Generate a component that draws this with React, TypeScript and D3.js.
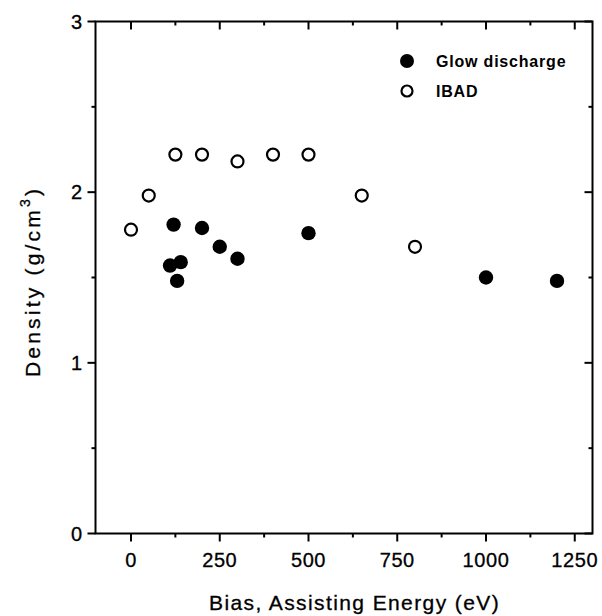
import React from "react";
import * as d3 from "d3";

const glowBias = [110, 120, 130, 140, 200, 250, 300, 500, 1000, 1200];
const glowDensity = [1.57, 1.81, 1.48, 1.59, 1.79, 1.68, 1.61, 1.76, 1.5, 1.48];

const ibadEnergy = [0, 50, 125, 200, 300, 400, 500, 650, 800];
const ibadDensity = [1.78, 1.98, 2.22, 2.22, 2.18, 2.22, 2.22, 1.98, 1.68];

const xMajor = [0, 250, 500, 750, 1000, 1250];
const xMinor = [125, 375, 625, 875, 1125];
const yMajor = [0, 1, 2, 3];
const yMinor = [0.5, 1.5, 2.5];

const legendLabels = ["Glow discharge", "IBAD"];

const W = 602;
const H = 616;
const L = 95.5;
const R = 592.5;
const T = 21.5;
const B = 533.5;

const FONT = "'Liberation Sans', Arial, Helvetica, sans-serif";

export default function App() {
  const x = d3.scaleLinear().domain([-100, 1300]).range([L, R]);
  const y = d3.scaleLinear().domain([0, 3]).range([B, T]);
  const major = 8;
  const minor = 4;
  const sw = 2;

  return (
    <svg
      width={W}
      height={H}
      viewBox={`0 0 ${W} ${H}`}
      style={{ position: "absolute", left: 0, top: 0, background: "#fff" }}
    >
      <rect x={0} y={0} width={W} height={H} fill="#fff" />
      <rect x={L} y={T} width={R - L} height={B - T} fill="none" stroke="#000" strokeWidth={sw} />
      {xMajor.map((v) => (
        <g key={"xm" + v}>
          <line x1={x(v)} x2={x(v)} y1={B} y2={B + major} stroke="#000" strokeWidth={sw} />
          <line x1={x(v)} x2={x(v)} y1={T} y2={T + major} stroke="#000" strokeWidth={sw} />
          <text
            x={x(v)}
            y={567}
            textAnchor="middle"
            fontFamily={FONT}
            fontSize={20}
            letterSpacing={0.6}
            fill="#000"
            stroke="#000"
            strokeWidth={0.3}
          >
            {v}
          </text>
        </g>
      ))}
      {xMinor.map((v) => (
        <g key={"xn" + v}>
          <line x1={x(v)} x2={x(v)} y1={B} y2={B + minor} stroke="#000" strokeWidth={sw} />
          <line x1={x(v)} x2={x(v)} y1={T} y2={T + minor} stroke="#000" strokeWidth={sw} />
        </g>
      ))}
      {yMajor.map((v) => (
        <g key={"ym" + v}>
          <line x1={L - major} x2={L} y1={y(v)} y2={y(v)} stroke="#000" strokeWidth={sw} />
          <line x1={R - major} x2={R} y1={y(v)} y2={y(v)} stroke="#000" strokeWidth={sw} />
          <text
            x={82}
            y={y(v) + 7}
            textAnchor="end"
            fontFamily={FONT}
            fontSize={20}
            fill="#000"
            stroke="#000"
            strokeWidth={0.3}
          >
            {v}
          </text>
        </g>
      ))}
      {yMinor.map((v) => (
        <g key={"yn" + v}>
          <line x1={L - minor} x2={L} y1={y(v)} y2={y(v)} stroke="#000" strokeWidth={sw} />
          <line x1={R - minor} x2={R} y1={y(v)} y2={y(v)} stroke="#000" strokeWidth={sw} />
        </g>
      ))}
      {ibadEnergy.map((v, i) => (
        <circle
          key={"ib" + i}
          cx={x(v)}
          cy={y(ibadDensity[i])}
          r={6}
          fill="#fff"
          stroke="#000"
          strokeWidth={2.2}
        />
      ))}
      {glowBias.map((v, i) => (
        <circle key={"gl" + i} cx={x(v)} cy={y(glowDensity[i])} r={7.2} fill="#000" />
      ))}
      <circle cx={407} cy={61} r={7} fill="#000" />
      <text x={436} y={66.5} fontFamily={FONT} fontSize={16} fontWeight="bold" letterSpacing={0.8} fill="#000">
        {legendLabels[0]}
      </text>
      <circle cx={407} cy={91} r={5.5} fill="#fff" stroke="#000" strokeWidth={2.2} />
      <text x={436} y={96.5} fontFamily={FONT} fontSize={16} fontWeight="bold" letterSpacing={0.8} fill="#000">
        {legendLabels[1]}
      </text>
      <text
        x={209}
        y={610}
        fontFamily={FONT}
        fontSize={21}
        letterSpacing={1.4}
        fill="#000"
        stroke="#000"
        strokeWidth={0.3}
      >
        Bias, Assisting Energy (eV)
      </text>
      <text
        transform={`translate(40, 377) rotate(-90)`}
        fontFamily={FONT}
        fontSize={21}
        letterSpacing={3.2}
        fill="#000"
        stroke="#000"
        strokeWidth={0.3}
      >
        Density (g/cm
        <tspan fontSize={14} dy={-10}>3</tspan>
        <tspan dy={10}>)</tspan>
      </text>
    </svg>
  );
}
